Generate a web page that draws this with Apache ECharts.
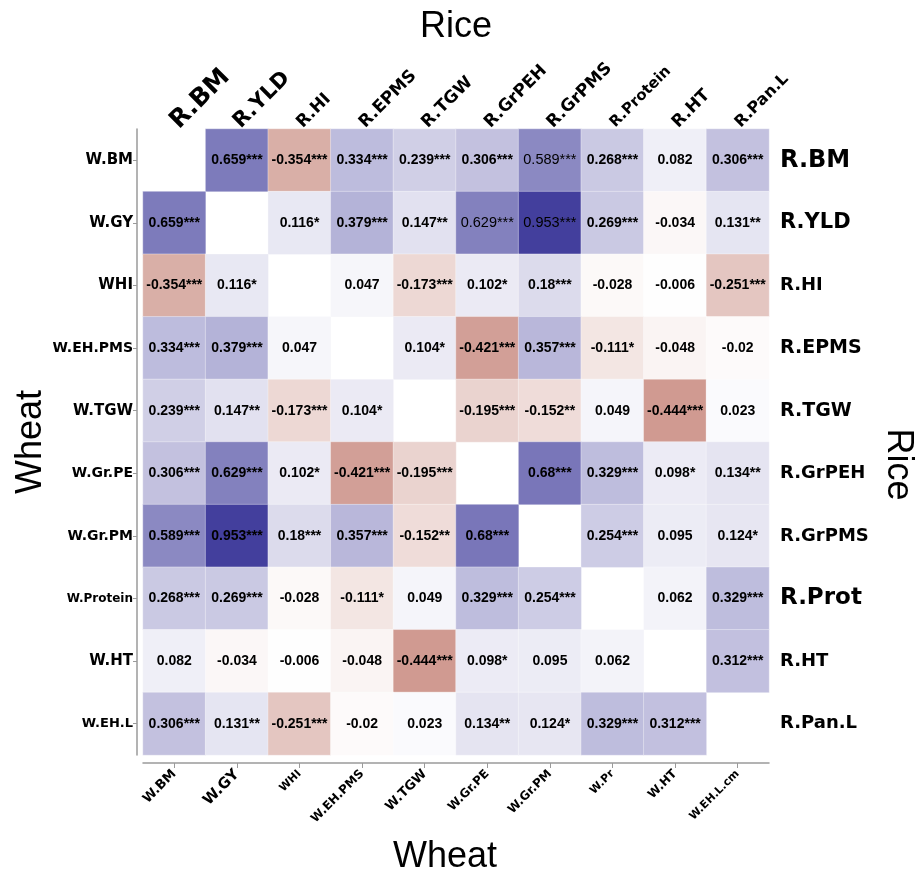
<!DOCTYPE html>
<html>
<head>
<meta charset="utf-8">
<script src="https://cdn.jsdelivr.net/npm/echarts@6/dist/echarts.min.js"></script>
<style>html,body{margin:0;padding:0;background:#fff}#c{width:918px;height:871px}</style>
</head>
<body>
<div id="c"></div>
<script>
// ---- data ----
const riceTraits = ['R.BM','R.YLD','R.HI','R.EPMS','R.TGW','R.GrPEH','R.GrPMS','R.Protein','R.HT','R.Pan.L'];
const riceRight  = ['R.BM','R.YLD','R.HI','R.EPMS','R.TGW','R.GrPEH','R.GrPMS','R.Prot','R.HT','R.Pan.L'];
const wheatLeft  = ['W.BM','W.GY','WHI','W.EH.PMS','W.TGW','W.Gr.PE','W.Gr.PM','W.Protein','W.HT','W.EH.L'];
const wheatBottom= ['W.BM','W.GY','WHI','W.EH.PMS','W.TGW','W.Gr.PE','W.Gr.PM','W.Pr','W.HT','W.EH.L.cm'];

const rowBM      = [null, 0.659, -0.354, 0.334, 0.239, 0.306, 0.589, 0.268, 0.082, 0.306];
const rowGY      = [0.659, null, 0.116, 0.379, 0.147, 0.629, 0.953, 0.269, -0.034, 0.131];
const rowHI      = [-0.354, 0.116, null, 0.047, -0.173, 0.102, 0.18, -0.028, -0.006, -0.251];
const rowEHPMS   = [0.334, 0.379, 0.047, null, 0.104, -0.421, 0.357, -0.111, -0.048, -0.02];
const rowTGW     = [0.239, 0.147, -0.173, 0.104, null, -0.195, -0.152, 0.049, -0.444, 0.023];
const rowGrPE    = [0.306, 0.629, 0.102, -0.421, -0.195, null, 0.68, 0.329, 0.098, 0.134];
const rowGrPM    = [0.589, 0.953, 0.18, 0.357, -0.152, 0.68, null, 0.254, 0.095, 0.124];
const rowProtein = [0.268, 0.269, -0.028, -0.111, 0.049, 0.329, 0.254, null, 0.062, 0.329];
const rowHT      = [0.082, -0.034, -0.006, -0.048, -0.444, 0.098, 0.095, 0.062, null, 0.312];
const rowEHL     = [0.306, 0.131, -0.251, -0.02, 0.023, 0.134, 0.124, 0.329, 0.312, null];

const starsBM      = ['', '***', '***', '***', '***', '***', '***', '***', '', '***'];
const starsGY      = ['***', '', '*', '***', '**', '***', '***', '***', '', '**'];
const starsHI      = ['***', '*', '', '', '***', '*', '***', '', '', '***'];
const starsEHPMS   = ['***', '***', '', '', '*', '***', '***', '*', '', ''];
const starsTGW     = ['***', '**', '***', '*', '', '***', '**', '', '***', ''];
const starsGrPE    = ['***', '***', '*', '***', '***', '', '***', '***', '*', '**'];
const starsGrPM    = ['***', '***', '***', '***', '**', '***', '', '***', '', '*'];
const starsProtein = ['***', '***', '', '*', '', '***', '***', '', '', '***'];
const starsHT      = ['', '', '', '', '***', '*', '', '', '', '***'];
const starsEHL     = ['***', '**', '***', '', '', '**', '*', '***', '***', ''];

const rows  = [rowBM, rowGY, rowHI, rowEHPMS, rowTGW, rowGrPE, rowGrPM, rowProtein, rowHT, rowEHL];
const stars = [starsBM, starsGY, starsHI, starsEHPMS, starsTGW, starsGrPE, starsGrPM, starsProtein, starsHT, starsEHL];

// ---- styles ----
const topSizes    = [25, 21, 17, 17, 17, 17, 17, 15, 17, 16];
const bottomSizes = [13, 15, 11, 12, 13, 12, 12, 11, 12, 11];
const leftSizes   = [15, 15, 15, 14, 15, 14, 14, 12, 15, 13];
const rightSizes  = [24, 21, 18, 19, 19, 18, 18, 23, 18, 18];
const thinCells = {'0,6':1, '1,5':1, '1,6':1};
const FONT = '"Liberation Sans", Arial, sans-serif';
const LFONT = '"DejaVu Sans", sans-serif';

const data = [];
rows.forEach((r, i) => r.forEach((v, j) => {
  if (v === null) return;
  const item = {value: [j, i, v], s: stars[i][j]};
  if (thinCells[i + ',' + j]) item.label = {fontWeight: 'normal', fontSize: 14.5};
  data.push(item);
}));

function richFor(sizes) {
  const r = {};
  sizes.forEach((s, i) => { r['s' + i] = {fontSize: s, fontWeight: 'bold', color: '#000', fontFamily: LFONT}; });
  return r;
}

const chart = echarts.init(document.getElementById('c'));
chart.setOption({
  animation: false,
  backgroundColor: '#fff',
  grid: {left: 143, top: 129, width: 626, height: 626, outerBoundsMode: 'none', containLabel: false},
  visualMap: {show: false, min: -1, max: 1, inRange: {color: ['#951c07', '#ffffff', '#3a3698']}, dimension: 2},
  xAxis: [
    {type: 'category', data: wheatBottom, position: 'bottom', offset: 8,
     axisLine: {show: true, lineStyle: {color: '#9a9a9a', width: 1.5}},
     axisTick: {show: true, alignWithLabel: true, length: 5, lineStyle: {color: '#9a9a9a'}},
     axisLabel: {rotate: 45, margin: 9, interval: 0, formatter: (v, i) => '{s' + i + '|' + v + '}', rich: richFor(bottomSizes)},
     splitLine: {show: false},
     name: 'Wheat', nameLocation: 'middle', nameGap: 76,
     nameTextStyle: {fontSize: 36, color: '#000', fontFamily: FONT, padding: [0, 22, 0, 0]}},
    {type: 'category', data: riceTraits, position: 'top',
     axisLine: {show: false}, axisTick: {show: false},
     axisLabel: {rotate: -45, margin: 4, interval: 0, formatter: (v, i) => '{s' + i + '|' + v + '}', rich: richFor(topSizes)},
     name: 'Rice', nameLocation: 'middle', nameGap: 84,
     nameTextStyle: {fontSize: 36, color: '#000', fontFamily: FONT}}
  ],
  yAxis: [
    {type: 'category', data: wheatLeft, inverse: true, position: 'left', offset: 6,
     axisLine: {show: true, lineStyle: {color: '#9a9a9a', width: 1.5}},
     axisTick: {show: true, alignWithLabel: true, length: 4, lineStyle: {color: '#9a9a9a'}},
     axisLabel: {margin: 4, interval: 0, formatter: (v, i) => '{s' + i + '|' + v + '}', rich: richFor(leftSizes)},
     name: 'Wheat', nameLocation: 'middle', nameGap: 88, nameRotate: 90, nameMoveOverlap: false,
     nameTextStyle: {fontSize: 36, color: '#000', fontFamily: FONT}},
    {type: 'category', data: riceRight, inverse: true, position: 'right',
     axisLine: {show: false}, axisTick: {show: false},
     axisLabel: {margin: 11, interval: 0, formatter: (v, i) => '{s' + i + '|' + v + '}', rich: richFor(rightSizes)},
     name: 'Rice', nameLocation: 'middle', nameGap: 108, nameRotate: -90,
     nameTextStyle: {fontSize: 36, color: '#000', fontFamily: FONT, padding: [0, 0, 0, 45]}}
  ],
  series: [{
    type: 'heatmap', xAxisIndex: 0, yAxisIndex: 0, data: data,
    itemStyle: {borderColor: 'rgba(255,255,255,0.35)', borderWidth: 1},
    label: {show: true, color: '#000', fontWeight: 'bold', fontSize: 14, fontFamily: FONT,
            formatter: p => String(p.value[2]) + p.data.s},
    emphasis: {disabled: true}
  }]
});
</script>
</body>
</html>
